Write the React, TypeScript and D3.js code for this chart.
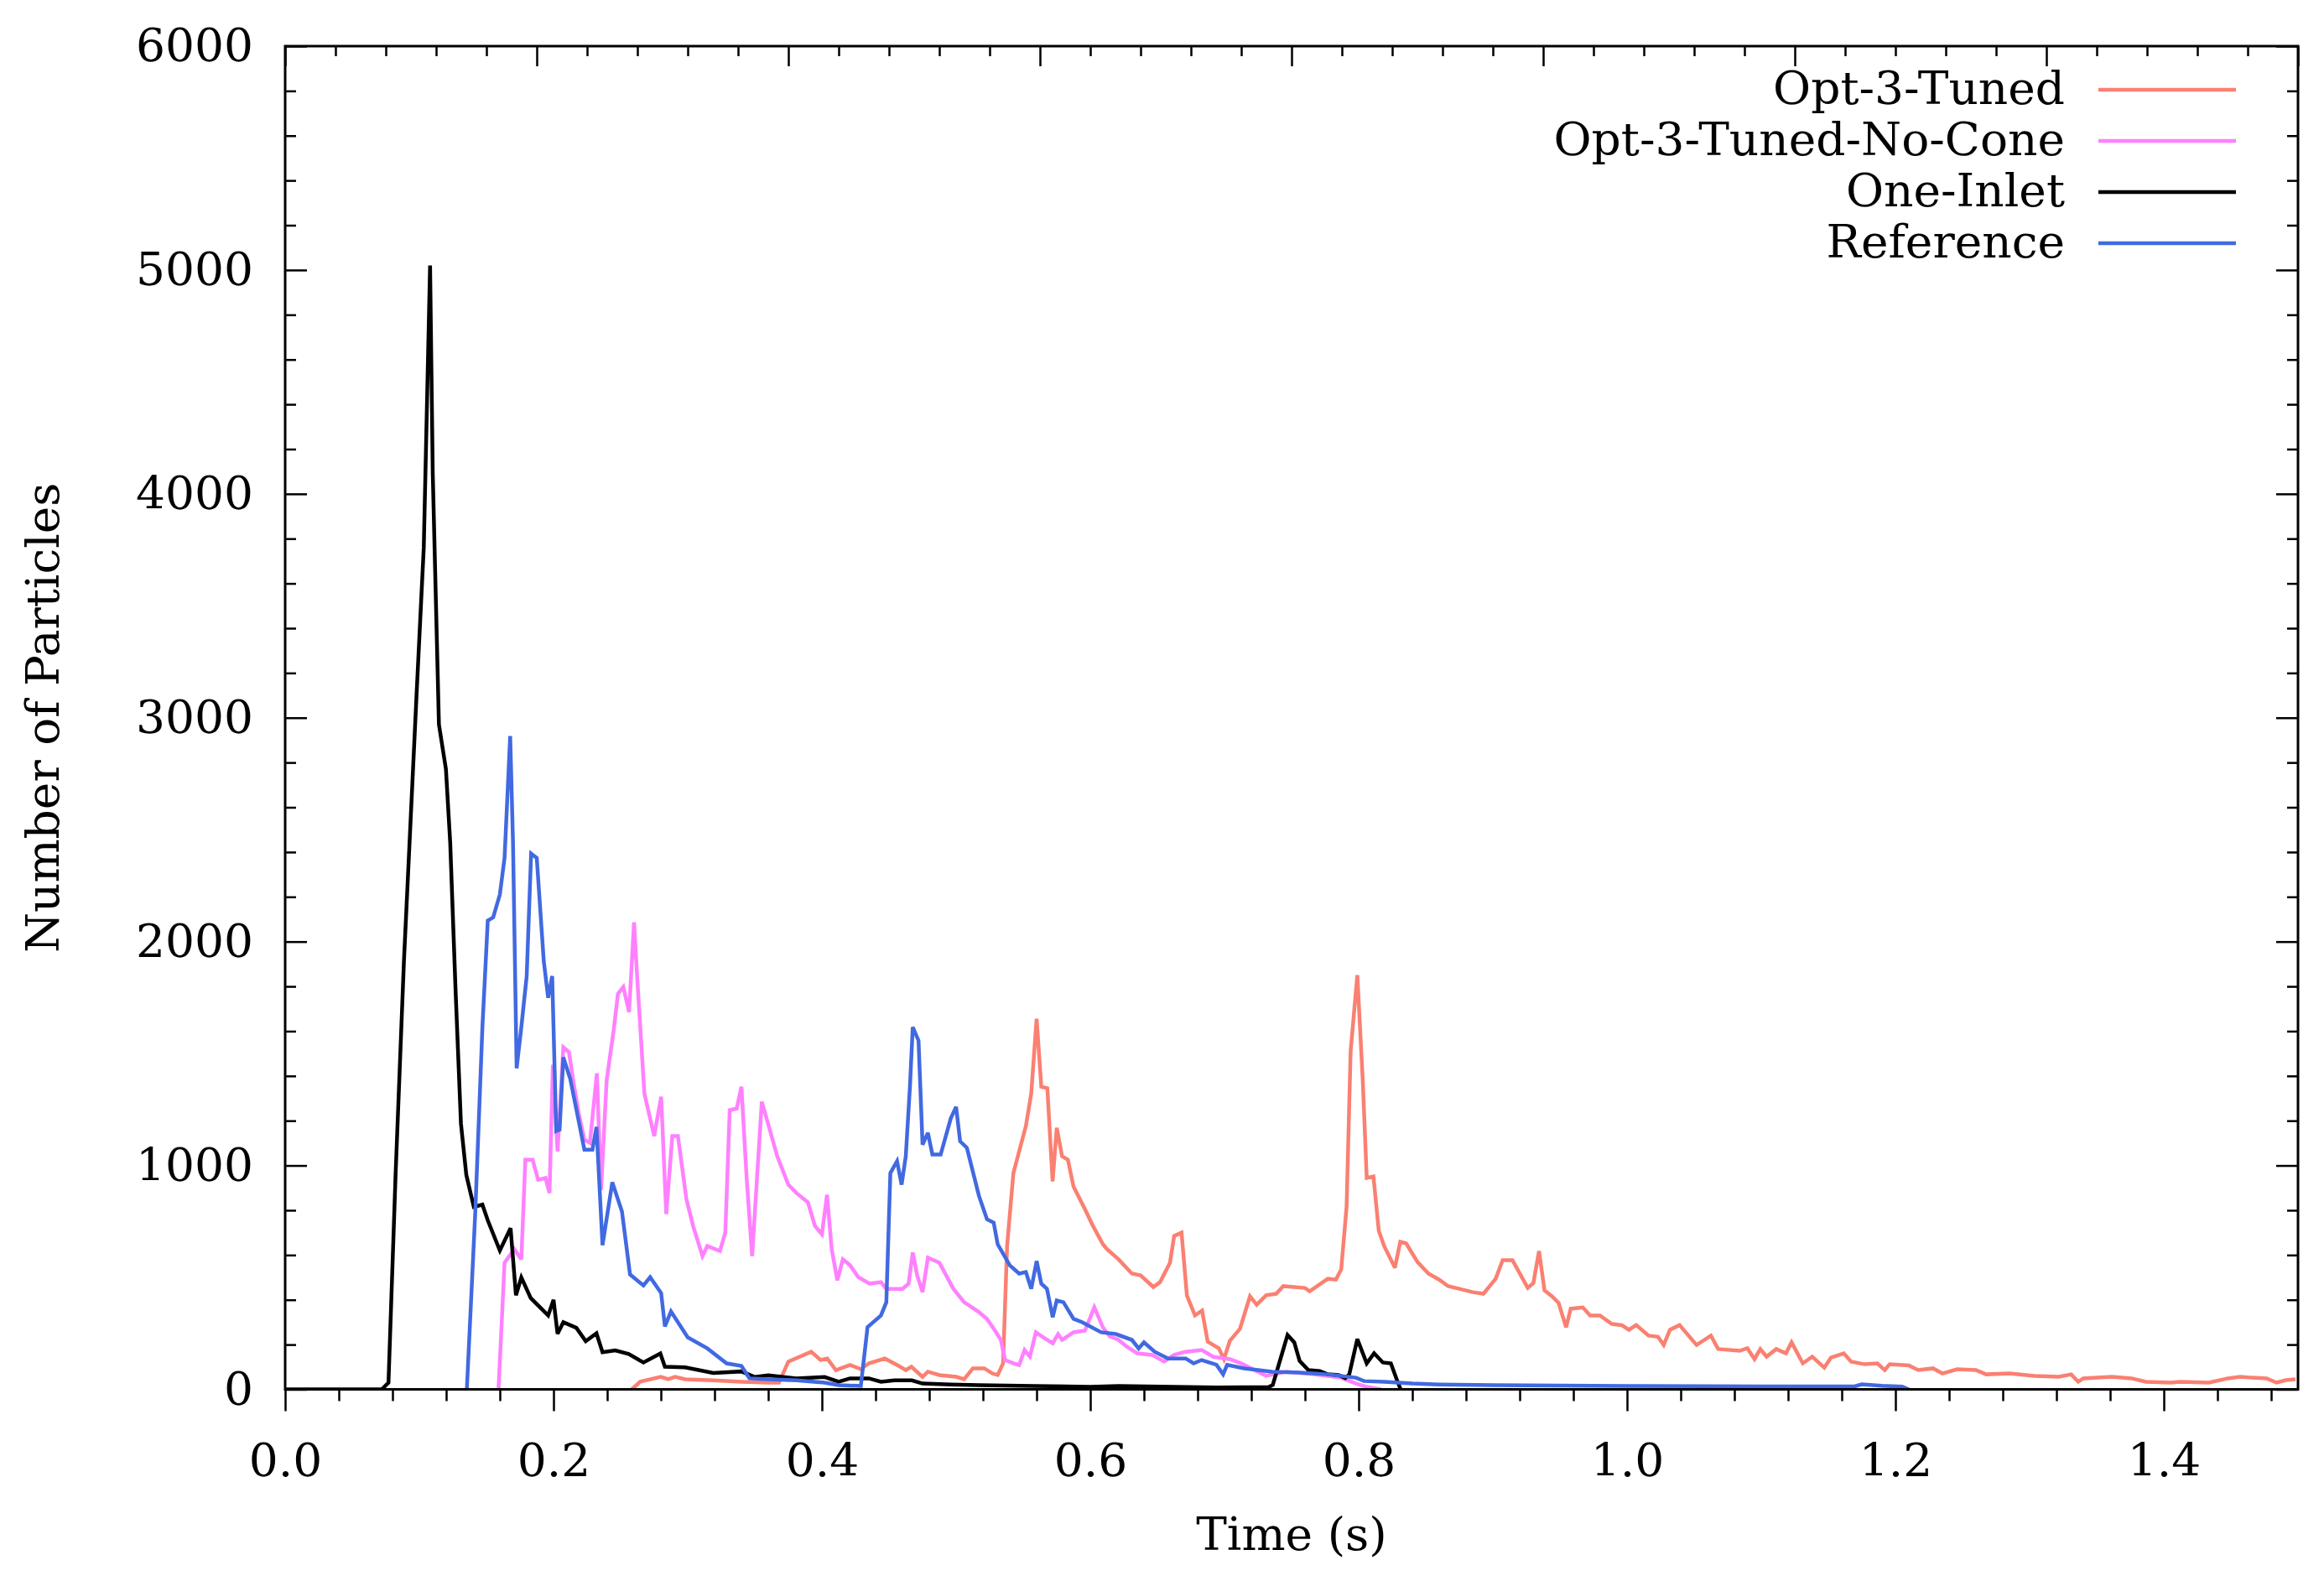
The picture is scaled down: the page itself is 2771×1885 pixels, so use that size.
import { useEffect, useRef } from 'react'
import * as d3 from 'd3'

type Pt = [number, number]

// time (s), number of particles
const opt3Tuned: Pt[] = [
  [0.2583, 0], [0.2646, 34], [0.28, 56], [0.2854, 45], [0.2906, 56], [0.298, 45], [0.319, 40], [0.34, 34], [0.36, 30], [0.368, 30],
  [0.375, 124], [0.392, 168], [0.399, 131], [0.404, 138], [0.4104, 86], [0.421, 109], [0.429, 90], [0.435, 116], [0.4469, 138],
  [0.456, 109], [0.4625, 86], [0.4667, 101], [0.475, 56], [0.479, 79], [0.4875, 64], [0.5, 56], [0.506, 45], [0.5125, 94], [0.521, 94],
  [0.527, 71], [0.531, 64], [0.535, 116], [0.538, 640], [0.5427, 966], [0.548, 1086], [0.552, 1176], [0.556, 1322], [0.56, 1655],
  [0.5635, 1352], [0.568, 1345], [0.5719, 929], [0.575, 1168], [0.579, 1041], [0.5833, 1026], [0.5875, 906], [0.596, 805], [0.602, 730],
  [0.6094, 648], [0.6125, 626], [0.621, 581], [0.631, 517], [0.6375, 509], [0.647, 457], [0.652, 479], [0.6594, 566], [0.6625, 685],
  [0.668, 700], [0.672, 419], [0.678, 330], [0.6833, 352], [0.6875, 213], [0.6958, 183], [0.6996, 135], [0.704, 217], [0.7115, 270],
  [0.719, 416], [0.724, 378], [0.731, 420], [0.7385, 427], [0.7438, 461], [0.76, 453], [0.7635, 438], [0.777, 494], [0.783, 490],
  [0.787, 536], [0.791, 816], [0.794, 1510], [0.799, 1850], [0.8031, 1374], [0.806, 944], [0.811, 951], [0.815, 708], [0.819, 640],
  [0.827, 543], [0.831, 659], [0.8354, 652], [0.8438, 569], [0.852, 517], [0.86, 490], [0.8667, 461], [0.875, 449], [0.885, 434],
  [0.893, 427], [0.9021, 494], [0.9073, 577], [0.9146, 577], [0.926, 453], [0.9302, 475], [0.9344, 618], [0.9385, 442], [0.944, 416],
  [0.949, 386], [0.9546, 277], [0.958, 360], [0.967, 366], [0.9725, 330], [0.9798, 330], [0.9887, 292], [0.996, 287], [1.0014, 266],
  [1.0068, 287], [1.016, 240], [1.023, 235], [1.0273, 198], [1.032, 266], [1.0391, 287], [1.0518, 198], [1.0625, 240], [1.0679, 180],
  [1.084, 172], [1.0896, 184], [1.095, 135], [1.0993, 180], [1.104, 146], [1.1112, 180], [1.1184, 161], [1.1226, 210], [1.131, 116],
  [1.138, 146], [1.147, 97], [1.152, 142], [1.1615, 161], [1.167, 124], [1.177, 112], [1.1866, 116], [1.192, 86], [1.1957, 112],
  [1.21, 107], [1.217, 86], [1.228, 94], [1.235, 71], [1.246, 90], [1.26, 86], [1.2676, 67], [1.285, 71], [1.3037, 60], [1.3218, 56],
  [1.331, 67], [1.3362, 34], [1.34, 49], [1.3613, 56], [1.376, 49], [1.3866, 34], [1.405, 30], [1.412, 34], [1.4335, 30], [1.4478, 49],
  [1.457, 56], [1.466, 52], [1.4766, 49], [1.484, 30], [1.491, 41], [1.4981, 45],
]

const opt3TunedNoCone: Pt[] = [
  [0.159, 0], [0.1635, 566], [0.1708, 626], [0.176, 581], [0.179, 1026], [0.1844, 1026], [0.1885, 936], [0.194, 944], [0.197, 877],
  [0.1995, 1450], [0.203, 1063], [0.2073, 1528], [0.2115, 1506], [0.2146, 1382], [0.2188, 1232], [0.223, 1116], [0.2271, 1101],
  [0.2323, 1412], [0.2354, 891], [0.2396, 1382], [0.2448, 1603], [0.248, 1767], [0.252, 1797], [0.2563, 1685], [0.26, 2086],
  [0.2625, 1824], [0.2677, 1322], [0.275, 1131], [0.2802, 1307], [0.284, 783], [0.2885, 1131], [0.2927, 1131], [0.299, 850],
  [0.304, 730], [0.311, 595], [0.3146, 640], [0.324, 618], [0.328, 700], [0.3313, 1247], [0.3365, 1254], [0.34, 1352], [0.344, 936],
  [0.348, 595], [0.3552, 1285], [0.3604, 1176], [0.3667, 1041], [0.375, 914], [0.381, 877], [0.3896, 835], [0.3948, 730], [0.4, 693],
  [0.4038, 869], [0.4073, 626], [0.4115, 487], [0.4156, 581], [0.421, 554], [0.427, 502], [0.4354, 472], [0.444, 479], [0.448, 449],
  [0.46, 449], [0.4646, 472], [0.4677, 611], [0.471, 509], [0.475, 434], [0.479, 588], [0.4875, 566], [0.498, 449], [0.506, 389],
  [0.517, 345], [0.523, 315], [0.529, 262], [0.5333, 221], [0.5365, 131], [0.543, 116], [0.547, 109], [0.551, 176], [0.555, 146],
  [0.5594, 255], [0.566, 228], [0.572, 206], [0.576, 247], [0.579, 221], [0.5875, 255], [0.596, 262], [0.603, 367], [0.6094, 277],
  [0.6146, 236], [0.621, 221], [0.6271, 191], [0.635, 161], [0.646, 154], [0.655, 124], [0.6625, 154], [0.671, 168], [0.683, 176],
  [0.6917, 145], [0.704, 135], [0.7125, 116], [0.72, 94], [0.731, 60], [0.746, 79], [0.767, 67], [0.787, 52], [0.798, 26], [0.806, 11],
  [0.8167, 0],
]

const oneInlet: Pt[] = [
  [0, 0], [0.072, 0], [0.077, 30], [0.0823, 960], [0.0885, 1910], [0.0979, 3100], [0.1033, 3760], [0.108, 5020], [0.11, 4090],
  [0.1146, 2970], [0.1198, 2771], [0.123, 2442], [0.127, 1782], [0.131, 1187], [0.135, 958], [0.1406, 815], [0.147, 825], [0.151, 755],
  [0.16, 620], [0.168, 720], [0.172, 420], [0.176, 500], [0.183, 408], [0.196, 330], [0.2, 400], [0.203, 248], [0.2073, 300],
  [0.217, 275], [0.224, 215], [0.232, 250], [0.2365, 166], [0.246, 174], [0.256, 158], [0.267, 120], [0.2796, 160], [0.283, 101],
  [0.298, 98], [0.319, 73], [0.34, 80], [0.35, 55], [0.36, 63], [0.381, 49], [0.402, 55], [0.4125, 34], [0.421, 49], [0.435, 49],
  [0.444, 34], [0.454, 40], [0.467, 40], [0.475, 26], [0.496, 22], [0.517, 19], [0.558, 15], [0.6, 11], [0.621, 15], [0.6625, 11],
  [0.694, 8], [0.733, 10], [0.736, 20], [0.747, 243], [0.752, 210], [0.756, 127], [0.7625, 86], [0.771, 82], [0.777, 67], [0.785, 64],
  [0.79, 50], [0.793, 67], [0.799, 225], [0.806, 116], [0.8115, 161], [0.818, 120], [0.824, 116], [0.829, 34], [0.8313, 0],
]

const reference: Pt[] = [
  [0.1354, 0], [0.1417, 794], [0.147, 1618], [0.151, 2094], [0.155, 2108], [0.16, 2210], [0.1635, 2374], [0.1677, 2918],
  [0.1698, 2442], [0.1725, 1434], [0.176, 1618], [0.18, 1846], [0.1833, 2393], [0.1875, 2374], [0.1927, 1914], [0.196, 1749],
  [0.199, 1846], [0.202, 1154], [0.2045, 1160], [0.2073, 1483], [0.2125, 1386], [0.223, 1071], [0.229, 1071], [0.232, 1172],
  [0.2365, 644], [0.2438, 925], [0.251, 794], [0.257, 513], [0.267, 464], [0.272, 501], [0.2802, 430], [0.283, 281], [0.2875, 348],
  [0.3, 232], [0.3146, 183], [0.329, 116], [0.34, 105], [0.346, 49], [0.36, 45], [0.381, 40], [0.402, 30], [0.4125, 19], [0.429, 15],
  [0.434, 278], [0.444, 330], [0.448, 389], [0.451, 966], [0.456, 1019], [0.4594, 914], [0.4625, 1041], [0.4656, 1352], [0.4677, 1618],
  [0.472, 1558], [0.475, 1093], [0.479, 1146], [0.4823, 1049], [0.4885, 1049], [0.496, 1210], [0.5, 1262], [0.503, 1108], [0.508, 1079],
  [0.517, 865], [0.523, 760], [0.528, 745], [0.531, 648], [0.54, 554], [0.547, 517], [0.552, 524], [0.556, 449], [0.56, 573],
  [0.5635, 472], [0.5677, 449], [0.572, 322], [0.575, 397], [0.58, 389], [0.5875, 315], [0.594, 300], [0.608, 255], [0.619, 247],
  [0.631, 221], [0.636, 183], [0.64, 210], [0.648, 168], [0.658, 138], [0.671, 138], [0.677, 116], [0.683, 131], [0.694, 110],
  [0.699, 67], [0.702, 109], [0.7146, 94], [0.7354, 79], [0.756, 75], [0.777, 67], [0.798, 52], [0.804, 37], [0.819, 34], [0.84, 26],
  [0.86, 22], [0.9, 19], [1.0, 15], [1.1, 13], [1.17, 14], [1.175, 22], [1.19, 16], [1.205, 12], [1.21, 0],
]

const seriesNames = ['Opt-3-Tuned', 'Opt-3-Tuned-No-Cone', 'One-Inlet', 'Reference']
const seriesColors = ['#fa8072', '#ff80ff', '#000000', '#4169e1']
const seriesData = [opt3Tuned, opt3TunedNoCone, oneInlet, reference]

const xMajorTicks = [0, 0.2, 0.4, 0.6, 0.8, 1.0, 1.2, 1.4]
const yMajorTicks = [0, 1000, 2000, 3000, 4000, 5000, 6000]

const FONT = "'DejaVu Serif', serif"

export default function App() {
  const svgRef = useRef<SVGSVGElement>(null)

  useEffect(() => {
    if (!svgRef.current) return
    const svg = d3.select(svgRef.current)
    svg.selectAll('*').remove()

    const W = 2771
    const H = 1885
    const margin = { top: 55, right: 31, bottom: 228.5, left: 340 }
    const width = W - margin.left - margin.right
    const height = H - margin.top - margin.bottom

    svg.attr('width', W).attr('height', H)
    svg.append('rect').attr('width', W).attr('height', H).attr('fill', '#fff')

    const g = svg.append('g').attr('transform', `translate(${margin.left},${margin.top})`)

    const x = d3.scaleLinear().domain([0, 1.5]).range([0, width])
    const x2 = d3.scaleLinear().domain([0, 1.6]).range([0, width])
    const y = d3.scaleLinear().domain([0, 6000]).range([height, 0])

    const xMinor = d3.range(0, 1.5001, 0.04).filter(v => Math.abs(v / 0.2 - Math.round(v / 0.2)) > 1e-6)
    const x2All = d3.range(0, 1.6001, 0.04)
    const x2Major = x2All.filter(v => Math.abs(v / 0.2 - Math.round(v / 0.2)) < 1e-6)
    const x2Minor = x2All.filter(v => Math.abs(v / 0.2 - Math.round(v / 0.2)) > 1e-6)
    const yMinor = d3.range(0, 6001, 200).filter(v => v % 1000 !== 0)

    const styleAxis = (sel: d3.Selection<SVGGElement, unknown, null, undefined>) => {
      sel.select('.domain').remove()
      sel.selectAll('line').attr('stroke', '#000').attr('stroke-width', 2.5)
      sel.selectAll('text').attr('font-family', FONT).attr('font-size', 55).attr('fill', '#000')
    }

    // bottom: ticks outward, labels
    g.append('g').attr('transform', `translate(0,${height})`)
      .call(d3.axisBottom(x).tickValues(xMajorTicks).tickSize(26).tickSizeOuter(0).tickPadding(38).tickFormat(d3.format('.1f')))
      .call(styleAxis)
    g.append('g').attr('transform', `translate(0,${height})`)
      .call(d3.axisBottom(x).tickValues(xMinor).tickSize(14).tickSizeOuter(0).tickFormat(() => ''))
      .call(styleAxis)

    // top mirror ticks pointing inward
    g.append('g')
      .call(d3.axisTop(x2).tickValues(x2Major).tickSize(-24).tickSizeOuter(0).tickFormat(() => ''))
      .call(styleAxis)
    g.append('g')
      .call(d3.axisTop(x2).tickValues(x2Minor).tickSize(-12).tickSizeOuter(0).tickFormat(() => ''))
      .call(styleAxis)

    // left: inward ticks, labels
    g.append('g')
      .call(d3.axisLeft(y).tickValues(yMajorTicks).tickSize(-26).tickSizeOuter(0).tickPadding(38).tickFormat(d3.format('d')))
      .call(styleAxis)
    g.append('g')
      .call(d3.axisLeft(y).tickValues(yMinor).tickSize(-13).tickSizeOuter(0).tickFormat(() => ''))
      .call(styleAxis)

    // right mirror ticks
    g.append('g').attr('transform', `translate(${width},0)`)
      .call(d3.axisRight(y).tickValues(yMajorTicks).tickSize(-26).tickSizeOuter(0).tickFormat(() => ''))
      .call(styleAxis)
    g.append('g').attr('transform', `translate(${width},0)`)
      .call(d3.axisRight(y).tickValues(yMinor).tickSize(-13).tickSizeOuter(0).tickFormat(() => ''))
      .call(styleAxis)

    // clip
    svg.append('defs').append('clipPath').attr('id', 'plotClip')
      .append('rect').attr('x', 0).attr('y', 0).attr('width', width).attr('height', height)

    const line = d3.line<Pt>().x(d => x(d[0])).y(d => y(d[1]))

    const lines = g.append('g').attr('clip-path', 'url(#plotClip)')
    seriesData.forEach((data, i) => {
      lines.append('path').datum(data)
        .attr('fill', 'none').attr('stroke', seriesColors[i]).attr('stroke-width', 4.5)
        .attr('stroke-linejoin', 'miter').attr('stroke-miterlimit', 3)
        .attr('d', line)
    })

    // frame
    g.append('rect').attr('width', width).attr('height', height)
      .attr('fill', 'none').attr('stroke', '#000').attr('stroke-width', 3)

    // legend
    const legend = svg.append('g').attr('transform', 'translate(2462,107)')
    seriesNames.forEach((name, i) => {
      const row = legend.append('g').attr('transform', `translate(0,${i * 61})`)
      row.append('text').attr('x', 0).attr('y', 17).attr('text-anchor', 'end')
        .attr('font-family', FONT).attr('font-size', 55).attr('fill', '#000').text(name)
      row.append('line').attr('x1', 40).attr('x2', 204).attr('y1', 0).attr('y2', 0)
        .attr('stroke', seriesColors[i]).attr('stroke-width', 4.5)
    })

    // axis titles
    svg.append('text').attr('x', margin.left + width / 2).attr('y', 1848).attr('text-anchor', 'middle')
      .attr('font-family', FONT).attr('font-size', 55).attr('fill', '#000').text('Time (s)')
    svg.append('text').attr('transform', `translate(70,${margin.top + height / 2}) rotate(-90)`).attr('text-anchor', 'middle')
      .attr('font-family', FONT).attr('font-size', 55).attr('fill', '#000').text('Number of Particles')
  }, [])

  return (
    <svg ref={svgRef} style={{ position: 'absolute', left: 0, top: 0, display: 'block' }} />
  )
}
